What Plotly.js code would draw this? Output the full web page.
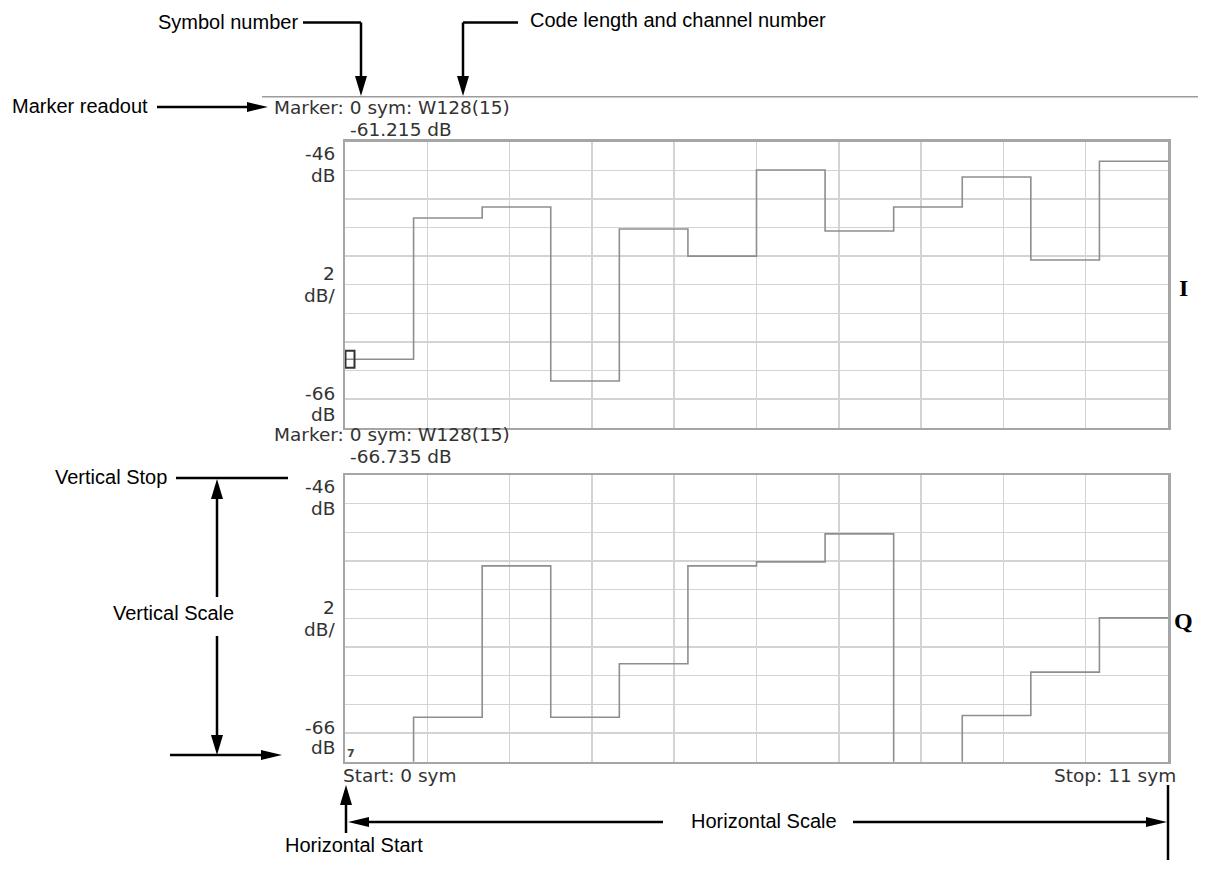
<!DOCTYPE html>
<html>
<head>
<meta charset="utf-8">
<script src="https://cdn.plot.ly/plotly-3.0.1.min.js"></script>
<style>html,body{margin:0;padding:0;background:#fff;}#chart{width:1205px;height:871px;}</style>
</head>
<body>
<div id="chart"></div>
<script>
// ---- data ----
const symbols = [0, 1, 2, 3, 4, 5, 6, 7, 8, 9, 10, 11];
const iValues = [-61.215, -51.34, -50.57, -62.73, -52.1, -54.0, -47.98, -52.24, -50.57, -48.47, -54.27, -47.37];
const qValues = [-66.735, -62.9, -52.34, -62.9, -59.17, -52.34, -52.06, -50.11, -67.5, -62.78, -59.75, -55.97];
const yRange = [-66, -46];
const dbPerDiv = 2;
const startSym = 0;
const stopSym = 11;
const markerSym = 0;
const codeLabel = 'W128(15)';
const iMarkerDb = -61.215;
const qMarkerDb = -66.735;
const callouts = ['Symbol number', 'Code length and channel number', 'Marker readout',
  'Vertical Stop', 'Vertical Scale', 'Horizontal Scale', 'Horizontal Start'];

// ---- geometry helpers ----
const W = 1205, H = 871;
const px = x => x / W;
const py = y => 1 - y / H;

const xsStep = symbols.concat([symbols.length]);
const ext = v => v.concat([v[v.length - 1]]);

const traceStyle = {mode: 'lines', line: {shape: 'hv', color: '#8e8e8e', width: 1.6}, hoverinfo: 'skip'};
const data = [
  Object.assign({x: xsStep, y: ext(iValues), xaxis: 'x', yaxis: 'y'}, traceStyle),
  Object.assign({x: xsStep, y: ext(qValues), xaxis: 'x2', yaxis: 'y2'}, traceStyle)
];

const panelX = [345, 1168];
const topPanel = [141.7, 427.7];
const botPanel = [475, 761.7];

const axX = (anchor) => ({
  domain: [px(panelX[0]), px(panelX[1])], anchor: anchor, range: [0, symbols.length],
  tick0: 0, dtick: symbols.length / 10, showticklabels: false, ticks: '',
  showgrid: true, gridcolor: '#d3d3d3', gridwidth: 1.5, zeroline: false,
  showline: true, mirror: true, linecolor: '#a6a6a6', linewidth: 2.5, fixedrange: true
});
const axY = (anchor, pan) => ({
  domain: [py(pan[1]), py(pan[0])], anchor: anchor, range: yRange,
  dtick: dbPerDiv, tick0: yRange[0], showticklabels: false, ticks: '',
  showgrid: true, gridcolor: '#d3d3d3', gridwidth: 1.5, zeroline: false,
  showline: true, mirror: true, linecolor: '#a6a6a6', linewidth: 2.5, fixedrange: true
});

// ---- shapes (callout lines & arrowheads) ----
const shapes = [];
const LW = 2.5;
function seg(x0, y0, x1, y1, color, width) {
  shapes.push({type: 'line', xref: 'paper', yref: 'paper', x0: px(x0), y0: py(y0), x1: px(x1), y1: py(y1),
    line: {color: color || '#000', width: width || LW}});
}
function head(tx, ty, dir, len, half) {
  len = len || 20; half = half || 6;
  let p;
  if (dir === 'down') p = [[tx, ty], [tx - half, ty - len], [tx + half, ty - len]];
  if (dir === 'up') p = [[tx, ty], [tx - half, ty + len], [tx + half, ty + len]];
  if (dir === 'right') p = [[tx, ty], [tx - len, ty - half], [tx - len, ty + half]];
  if (dir === 'left') p = [[tx, ty], [tx + len, ty - half], [tx + len, ty + half]];
  const path = 'M ' + p.map(q => px(q[0]).toFixed(5) + ',' + py(q[1]).toFixed(5)).join(' L ') + ' Z';
  shapes.push({type: 'path', xref: 'paper', yref: 'paper', path: path, fillcolor: '#000', line: {width: 0}});
}
// separator line above readout
seg(262, 96.7, 1198, 96.7, '#9c9c9c', 1.5);
// Symbol number
seg(303, 22.5, 361, 22.5); seg(361, 22.5, 361, 80); head(361, 96, 'down');
// Code length
seg(518, 22.5, 463, 22.5); seg(463, 22.5, 463, 80); head(463, 96, 'down');
// Marker readout
seg(157, 107, 250, 107); head(268, 107, 'right', 21, 5);
// Vertical stop
seg(176, 478, 288, 478); seg(217, 597, 217, 495); head(217, 479, 'up');
// Vertical scale lower arrow
seg(217, 636, 217, 740); head(217, 755, 'down');
seg(170, 755, 265, 755); head(282, 755, 'right', 21, 5);
// Horizontal start
seg(346, 833, 346, 800); head(346, 785, 'up');
// Horizontal scale
seg(663, 822, 365, 822); head(348, 822, 'left', 21, 5);
seg(853, 822, 1150, 822); head(1167, 822, 'right', 21, 5);
seg(1168, 785, 1168, 860);
// marker box on I trace
shapes.push({type: 'rect', xref: 'x', yref: 'y', xsizemode: 'pixel', ysizemode: 'pixel',
  xanchor: markerSym, yanchor: iMarkerDb, x0: 0.5, x1: 9.5, y0: -8.5, y1: 8.5,
  line: {color: '#333', width: 2}, fillcolor: 'rgba(255,255,255,0)'});

// ---- annotations ----
const annotations = [];
const calloutFont = {family: 'Liberation Sans Narrow, Arial Narrow, Liberation Sans, Arial, sans-serif', size: 20, color: '#000'};
const readFont = {family: 'DejaVu Sans, Verdana, sans-serif', size: 18.5, color: '#333'};
function txt(text, x, y, xanchor, font) {
  annotations.push({text: text, xref: 'paper', yref: 'paper', x: px(x), y: py(y), xanchor: xanchor,
    yanchor: 'middle', showarrow: false, font: font, borderpad: 0});
}
txt(callouts[0], 299, 21.7, 'right', calloutFont);
txt(callouts[1], 529, 20, 'left', calloutFont);
txt(callouts[2], 11, 106, 'left', calloutFont);
txt(callouts[3], 54, 477, 'left', calloutFont);
txt(callouts[4], 173, 613, 'center', calloutFont);
txt(callouts[5], 764, 821, 'center', calloutFont);
txt(callouts[6], 424, 845, 'right', calloutFont);

const fmt = v => v.toFixed(3) + ' dB';
const markerLine = 'Marker: ' + markerSym + ' sym: ' + codeLabel;
txt(markerLine, 273, 107.5, 'left', readFont);
txt(fmt(iMarkerDb), 349, 129, 'left', readFont);
txt(markerLine, 273, 435, 'left', readFont);
txt(fmt(qMarkerDb), 349, 456, 'left', readFont);

function yLabels(top) {
  txt(String(yRange[1]), 336, top + 11.3, 'right', readFont);
  txt('dB', 336, top + 33.5, 'right', readFont);
  txt(String(dbPerDiv), 336, top + 132, 'right', readFont);
  txt('dB/', 336, top + 154, 'right', readFont);
  txt(String(yRange[0]), 336, top + 252, 'right', readFont);
  txt('dB', 336, top + 272.5, 'right', readFont);
}
yLabels(topPanel[0]);
yLabels(botPanel[0]);

txt('Start: ' + startSym + ' sym', 342, 775, 'left', readFont);
txt('Stop: ' + stopSym + ' sym', 1177, 775, 'right', readFont);

const chFont = {family: 'Liberation Serif, DejaVu Serif, serif', size: 24, color: '#000', weight: 'bold'};
txt('I', 1183, 288, 'center', chFont);
txt('Q', 1183, 621, 'center', chFont);

// clipped Q marker glyph at bottom-left
annotations.push({text: '<b>7</b>', xref: 'x2', yref: 'y2', x: markerSym, y: yRange[0], xanchor: 'left',
  yanchor: 'bottom', showarrow: false, font: {family: 'DejaVu Sans, sans-serif', size: 11, color: '#444'},
  borderpad: 0, xshift: 1, yshift: 1});

const layout = {
  width: W, height: H, margin: {l: 0, r: 0, t: 0, b: 0},
  paper_bgcolor: '#fff', plot_bgcolor: '#fff', showlegend: false,
  xaxis: axX('y'), yaxis: axY('x', topPanel),
  xaxis2: axX('y2'), yaxis2: axY('x2', botPanel),
  shapes: shapes, annotations: annotations
};
Plotly.newPlot('chart', data, layout, {staticPlot: true, displayModeBar: false});
</script>
</body>
</html>
